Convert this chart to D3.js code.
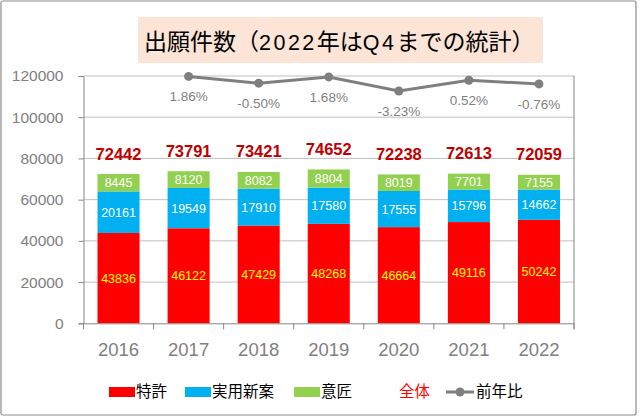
<!DOCTYPE html>
<html>
<head>
<meta charset="utf-8">
<script src="https://cdn.jsdelivr.net/npm/d3@7"></script>
<style>
  body { margin: 0; background: #fff; }
  svg { display: block; }
</style>
</head>
<body>
<div id="chart"></div>
<script>
'use strict';

// data
const years = ['2016', '2017', '2018', '2019', '2020', '2021', '2022'];
const patent = [43836, 46122, 47429, 48268, 46664, 49116, 50242];
const utility = [20161, 19549, 17910, 17580, 17555, 15796, 14662];
const design = [8445, 8120, 8082, 8804, 8019, 7701, 7155];
const totals = [72442, 73791, 73421, 74652, 72238, 72613, 72059];
const growth = [null, 1.86, -0.50, 1.68, -3.23, 0.52, -0.76];
const yTicks = [0, 20000, 40000, 60000, 80000, 100000, 120000];

const width = 641, height = 417;
const plotLeft = 83.5, plotRight = 574, plotTop = 76, plotBottom = 323.3;
const numFont = '"Liberation Sans", Arial, sans-serif';
const jpFont = '"Noto Sans CJK JP", sans-serif';

const svg = d3.select('#chart')
    .append('svg')
    .attr('width', width)
    .attr('height', height);

// outer frame
svg.append('rect')
    .attr('x', 1).attr('y', 1)
    .attr('width', 635).attr('height', 414)
    .attr('rx', 2)
    .attr('fill', '#fff')
    .attr('stroke', '#8c8c8c')
    .attr('stroke-width', 1.2);

// title
svg.append('rect')
    .attr('x', 138).attr('y', 17)
    .attr('width', 405).attr('height', 46)
    .attr('fill', '#fce4d6');

const title = svg.append('text')
    .attr('x', 144).attr('y', 49.5)
    .attr('font-family', jpFont)
    .attr('font-size', 23)
    .attr('fill', '#000');
title.append('tspan').text('出願件数（');
title.append('tspan').attr('font-family', numFont).attr('font-size', 21.5).attr('letter-spacing', 2.5).text('2022');
title.append('tspan').text('年は');
title.append('tspan').attr('font-family', numFont).attr('font-size', 21.5).attr('letter-spacing', 2.5).text('Q4');
title.append('tspan').text('までの統計）');

// scales
const x = d3.scaleBand().domain(years).range([plotLeft, plotRight]).paddingInner(0.4).paddingOuter(0.2);
const band = d3.scaleBand().domain(years).range([plotLeft, plotRight]);
const y = d3.scaleLinear().domain([0, 120000]).range([plotBottom, plotTop]);
const y2 = d3.scaleLinear().domain([-84, 2]).range([plotBottom, plotTop]);

// gridlines
svg.append('g')
    .selectAll('line')
    .data(yTicks.slice(1))
    .join('line')
    .attr('x1', plotLeft).attr('x2', plotRight)
    .attr('y1', d => y(d)).attr('y2', d => y(d))
    .attr('stroke', '#bfbfbf')
    .attr('stroke-width', 1);

// left axis
const yAxis = svg.append('g')
    .attr('transform', `translate(${plotLeft},0)`)
    .call(d3.axisLeft(y).tickValues(yTicks).tickSize(5).tickPadding(15).tickFormat(d3.format('d')));
yAxis.select('.domain').attr('stroke', '#868686');
yAxis.selectAll('.tick line').attr('stroke', '#868686');
yAxis.selectAll('.tick text')
    .attr('font-family', numFont)
    .attr('font-size', 15.5)
    .attr('fill', '#808080');

// right (secondary) axis line, no labels
svg.append('line')
    .attr('x1', plotRight).attr('x2', plotRight)
    .attr('y1', plotTop).attr('y2', plotBottom + 6)
    .attr('stroke', '#868686');

// stacked bars
const series = [
    { name: '特許', values: patent, color: '#ff0000', label: '#ffff00' },
    { name: '実用新案', values: utility, color: '#00b0f0', label: '#ffffff' },
    { name: '意匠', values: design, color: '#92d050', label: '#ffffff' }
];
const rows = years.map((yr, i) => ({ year: yr, 0: patent[i], 1: utility[i], 2: design[i] }));
const stack = d3.stack().keys([0, 1, 2])(rows);

const layers = svg.append('g')
    .selectAll('g')
    .data(stack)
    .join('g')
    .attr('fill', (d, i) => series[i].color);

layers.selectAll('rect')
    .data(d => d)
    .join('rect')
    .attr('x', d => x(d.data.year))
    .attr('y', d => y(d[1]))
    .attr('width', x.bandwidth())
    .attr('height', d => y(d[0]) - y(d[1]));

layers.selectAll('text')
    .data(d => d)
    .join('text')
    .attr('x', d => x(d.data.year) + x.bandwidth() / 2)
    .attr('y', d => y((d[0] + d[1]) / 2) + 4.5)
    .attr('text-anchor', 'middle')
    .attr('font-family', numFont)
    .attr('font-size', 12.5)
    .attr('fill', function () { return series[d3.select(this.parentNode).datum().key].label; })
    .text(d => d[1] - d[0]);

// bottom axis
const xAxis = svg.append('g')
    .attr('transform', `translate(0,${plotBottom})`)
    .call(d3.axisBottom(band).tickSize(0).tickPadding(20));
xAxis.select('.domain').attr('stroke', '#868686');
xAxis.selectAll('.tick text')
    .attr('font-family', numFont)
    .attr('font-size', 18.5)
    .attr('fill', '#808080');
svg.append('g')
    .selectAll('line')
    .data(d3.range(years.length + 1))
    .join('line')
    .attr('x1', i => plotLeft + i * band.step())
    .attr('x2', i => plotLeft + i * band.step())
    .attr('y1', plotBottom).attr('y2', plotBottom + 6)
    .attr('stroke', '#868686');

// totals
svg.append('g')
    .selectAll('text')
    .data(years)
    .join('text')
    .attr('x', d => x(d) + x.bandwidth() / 2)
    .attr('y', (d, i) => y(totals[i]) - 14.5)
    .attr('text-anchor', 'middle')
    .attr('font-family', numFont)
    .attr('font-size', 16.5)
    .attr('font-weight', 'bold')
    .attr('fill', '#c00000')
    .text((d, i) => totals[i]);

// year-over-year line
const pts = years.map((yr, i) => ({ year: yr, v: growth[i] })).filter(d => d.v !== null);
const line = d3.line()
    .x(d => x(d.year) + x.bandwidth() / 2)
    .y(d => y2(d.v));

svg.append('path')
    .datum(pts)
    .attr('d', line)
    .attr('fill', 'none')
    .attr('stroke', '#7f7f7f')
    .attr('stroke-width', 3);

svg.append('g')
    .selectAll('circle')
    .data(pts)
    .join('circle')
    .attr('cx', d => x(d.year) + x.bandwidth() / 2)
    .attr('cy', d => y2(d.v))
    .attr('r', 4.5)
    .attr('fill', '#7f7f7f');

svg.append('g')
    .selectAll('text')
    .data(pts)
    .join('text')
    .attr('x', d => x(d.year) + x.bandwidth() / 2)
    .attr('y', d => y2(d.v) + 25)
    .attr('text-anchor', 'middle')
    .attr('font-family', numFont)
    .attr('font-size', 13.5)
    .attr('fill', '#7f7f7f')
    .text(d => d.v.toFixed(2) + '%');

// legend
const legendY = 391;
const legend = svg.append('g').attr('font-family', jpFont).attr('font-size', 15.5);
const swatchX = [109, 185, 294];
series.forEach((s, i) => {
    legend.append('rect')
        .attr('x', swatchX[i]).attr('y', legendY - 4)
        .attr('width', 26).attr('height', 10)
        .attr('fill', s.color);
    legend.append('text')
        .attr('x', swatchX[i] + 27).attr('y', legendY + 6)
        .attr('fill', '#000')
        .text(s.name);
});
legend.append('text')
    .attr('x', 399).attr('y', legendY + 6)
    .attr('fill', '#ff0000')
    .text('全体');
legend.append('line')
    .attr('x1', 446).attr('x2', 474)
    .attr('y1', legendY + 1).attr('y2', legendY + 1)
    .attr('stroke', '#7f7f7f').attr('stroke-width', 3);
legend.append('circle')
    .attr('cx', 460).attr('cy', legendY + 1).attr('r', 4.5)
    .attr('fill', '#7f7f7f');
legend.append('text')
    .attr('x', 476).attr('y', legendY + 6)
    .attr('fill', '#000')
    .text('前年比');
</script>
</body>
</html>
